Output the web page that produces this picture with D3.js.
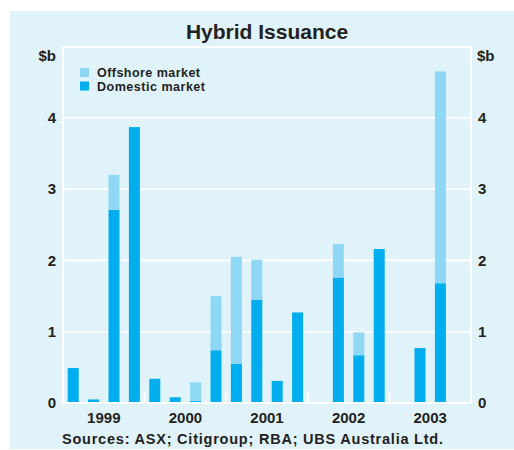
<!DOCTYPE html>
<html><head><meta charset="utf-8">
<script src="https://cdn.jsdelivr.net/npm/d3@7"></script>
<style>
html,body{margin:0;padding:0;background:#fff;}
svg{display:block;}
text{font-family:"Liberation Sans",Arial,sans-serif;font-weight:bold;fill:#231f20;}
</style></head>
<body>
<script>
const quarters = ["1999Q1","1999Q2","1999Q3","1999Q4","2000Q1","2000Q2","2000Q3","2000Q4",
  "2001Q1","2001Q2","2001Q3","2001Q4","2002Q1","2002Q2","2002Q3","2002Q4",
  "2003Q1","2003Q2","2003Q3","2003Q4"];
const domestic = [0.49,0.05,2.71,3.87, 0.34,0.08,0.03,0.74, 0.55,1.45,0.31,1.27, 0,1.76,0.67,2.16, 0,0.77,1.68,0];
const offshore = [0,0,0.49,0, 0,0,0.26,0.76, 1.50,0.56,0,0, 0.01,0.47,0.32,0, 0,0,2.97,0];
const years = ["1999","2000","2001","2002","2003"];
const yTicks = [0,1,2,3,4];
const seriesNames = ["Domestic market","Offshore market"];

const W = 514, H = 450;
const colDom = "#00aeef", colOff = "#8fd8f5", bg = "#e0f2fa";

const svg = d3.select("body").append("svg").attr("width", W).attr("height", H);
svg.append("rect").attr("x",10).attr("y",11).attr("width",W-10).attr("height",438).attr("fill",bg);

const x = d3.scaleBand().domain(quarters).range([63,471]).paddingInner(0.46).paddingOuter(0.23);
const y = d3.scaleLinear().domain([0,5]).range([403,46.5]);

// title
svg.append("text").attr("x",267).attr("y",38.5).attr("text-anchor","middle")
  .style("font-size","21px").text("Hybrid Issuance");

// gridlines
svg.append("g").selectAll("line").data(yTicks.slice(1)).join("line")
  .attr("x1",63).attr("x2",471).attr("y1",d=>y(d)).attr("y2",d=>y(d))
  .attr("stroke","#fff").attr("stroke-width",1.6);

// stacked bars
const table = quarters.map((q,i)=>({q, dom:domestic[i], off:offshore[i]}));
const stack = d3.stack().keys(["dom","off"])(table);
const colors = {dom:colDom, off:colOff};
svg.append("g").selectAll("g").data(stack).join("g").attr("fill",s=>colors[s.key])
  .selectAll("rect").data(s=>s).join("rect")
  .attr("x",d=>x(d.data.q)).attr("width",x.bandwidth())
  .attr("y",d=>y(d[1])).attr("height",d=>Math.max(0,y(d[0])-y(d[1])));

// frame
const frame = svg.append("g").attr("stroke","#fff").attr("stroke-width",2).attr("fill","none");
frame.append("line").attr("x1",63).attr("x2",63).attr("y1",46.5).attr("y2",404);
frame.append("line").attr("x1",471).attr("x2",471).attr("y1",46.5).attr("y2",404);
frame.append("line").attr("x1",62).attr("x2",472).attr("y1",47).attr("y2",47);
frame.append("line").attr("x1",62).attr("x2",472).attr("y1",403).attr("y2",403);

// year boundary ticks
const yearBounds = years.slice(1).map(yr=>x(yr+"Q1") - x.step()*x.paddingInner()/2);
svg.append("g").selectAll("line").data(yearBounds).join("line")
  .attr("x1",d=>d).attr("x2",d=>d).attr("y1",392).attr("y2",403)
  .attr("stroke","#fff").attr("stroke-width",2);

// year labels
svg.append("g").selectAll("text").data(years).join("text")
  .attr("x",yr=>(x(yr+"Q1")+x(yr+"Q4")+x.bandwidth())/2)
  .attr("y",422.5).attr("text-anchor","middle").style("font-size","15px").text(d=>d);

// y axis labels
const fmt = d3.format("d");
const ax = d3.axisLeft(y).tickValues(yTicks).tickFormat(fmt).tickSize(0).tickPadding(0);
const gl = svg.append("g").attr("transform","translate(56,0)").call(ax);
gl.select(".domain").remove();
gl.selectAll("text").style("font-size","15px").style("font-family",null).attr("fill",null);
const ar = d3.axisRight(y).tickValues(yTicks).tickFormat(fmt).tickSize(0).tickPadding(0);
const gr = svg.append("g").attr("transform","translate(478,0)").call(ar);
gr.select(".domain").remove();
gr.selectAll("text").style("font-size","15px").style("font-family",null).attr("fill",null);

svg.append("text").attr("x",56).attr("y",61).attr("text-anchor","end").style("font-size","15px").text("$b");
svg.append("text").attr("x",477).attr("y",61).style("font-size","15px").text("$b");

// legend
const leg = [{n:"Offshore market",c:colOff},{n:"Domestic market",c:colDom}];
const lg = svg.append("g").selectAll("g").data(leg).join("g")
  .attr("transform",(d,i)=>`translate(80,${68+i*13.5})`);
lg.append("rect").attr("width",9).attr("height",9).attr("fill",d=>d.c);
lg.append("text").attr("x",17).attr("y",9).style("font-size","12.5px")
  .attr("textLength",d=>d.n==="Offshore market"?103:108).attr("lengthAdjust","spacing").text(d=>d.n);

// source
svg.append("text").attr("x",62).attr("y",443.5).style("font-size","14.5px")
  .attr("textLength",381).attr("lengthAdjust","spacing")
  .text("Sources: ASX; Citigroup; RBA; UBS Australia Ltd.");
</script>
</body></html>
